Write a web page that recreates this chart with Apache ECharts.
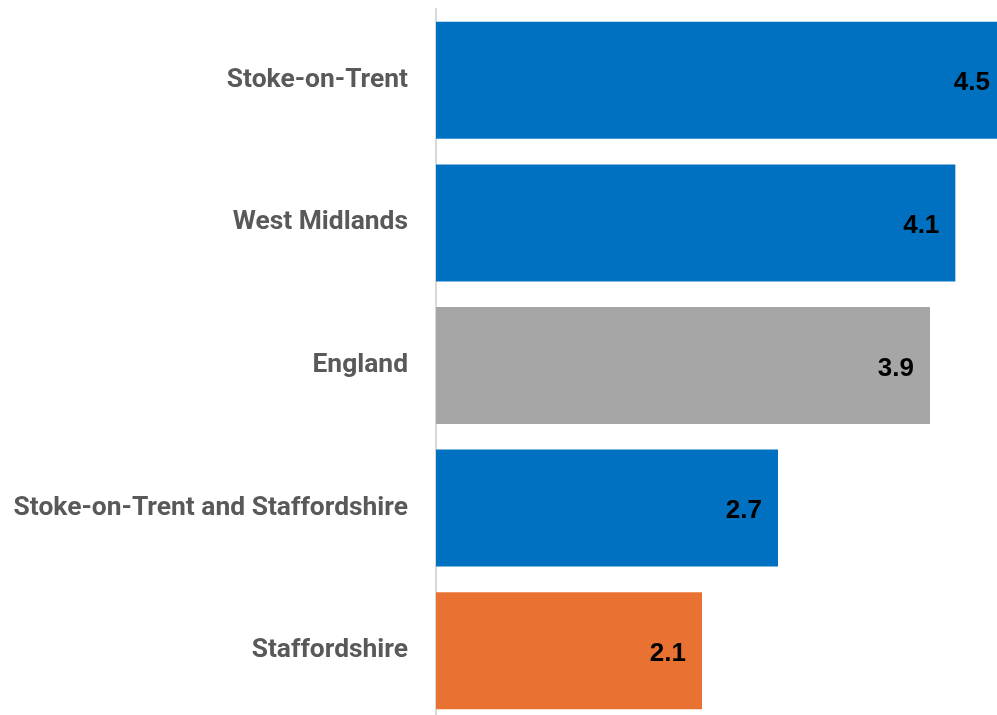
<!DOCTYPE html>
<html>
<head>
<meta charset="utf-8">
<script src="https://cdn.jsdelivr.net/npm/echarts@6/dist/echarts.min.js"></script>
<style>
html,body{margin:0;padding:0;background:#fff;}
#chart{width:997px;height:715px;}
</style>
</head>
<body>
<div id="chart"></div>
<script>
const categories = ["Stoke-on-Trent", "West Midlands", "England", "Stoke-on-Trent and Staffordshire", "Staffordshire"];
const values = [4.5, 4.1, 3.9, 2.7, 2.1];
const barColors = ["#0070C0", "#0070C0", "#A6A6A6", "#0070C0", "#E97132"];

const chart = echarts.init(document.getElementById('chart'), null, {renderer: 'canvas'});
chart.setOption({
  animation: false,
  backgroundColor: '#ffffff',
  grid: {left: 436, width: 570, top: 9, height: 713, containLabel: false, outerBoundsMode: 'none'},
  xAxis: {
    type: 'value', min: 0, max: 4.5,
    show: false,
    splitLine: {show: false}
  },
  yAxis: {
    type: 'category',
    data: categories,
    inverse: true,
    axisLine: {show: true, lineStyle: {color: '#d9d9d9', width: 2}},
    axisTick: {show: false},
    axisLabel: {
      margin: 28,
      color: '#595959',
      fontFamily: 'Roboto',
      fontWeight: 'bold',
      fontSize: 26.4,
      padding: [4, 0, 0, 0]
    }
  },
  series: [{
    type: 'bar',
    barWidth: 117,
    clip: false,
    data: values.map((v, i) => ({value: v, itemStyle: {color: barColors[i]}})),
    label: {
      show: true,
      position: 'insideRight',
      distance: 16,
      offset: [0, 3],
      color: '#000000',
      fontFamily: 'Liberation Sans',
      fontWeight: 'bold',
      fontSize: 26,
      formatter: p => p.value.toFixed(1)
    }
  }]
});
</script>
</body>
</html>
